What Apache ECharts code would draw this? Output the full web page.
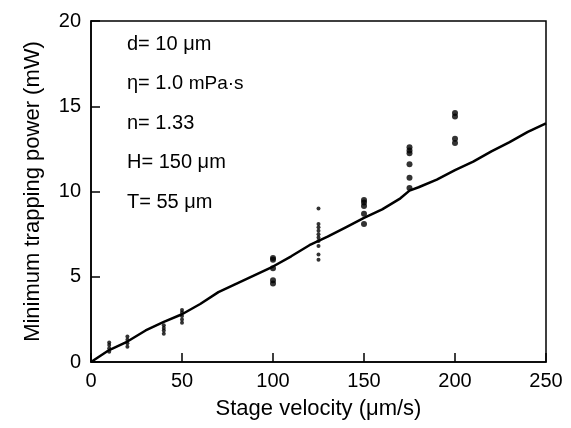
<!DOCTYPE html>
<html><head><meta charset="utf-8">
<script src="https://cdn.jsdelivr.net/npm/echarts@6/dist/echarts.min.js"></script>
<style>html,body{margin:0;padding:0;background:#fff}#c{width:571px;height:428px}</style>
</head><body><div id="c"></div>
<script>
// theory curve (stage velocity, power)
const curveX = [0,10,20,30,40,50,60,70,80,90,100,110,120,130,140,150,160,170,175,180,190,200,210,220,230,240,250];
const curveY = [0,0.7,1.2,1.85,2.35,2.8,3.4,4.1,4.6,5.1,5.6,6.2,6.85,7.35,7.9,8.45,8.95,9.6,10.05,10.25,10.7,11.25,11.75,12.35,12.9,13.5,14.0];
// measured points
const pointX = [10,10,10,10, 20,20,20,20, 40,40,40,40, 50,50,50,50,50,
  100,100,100,100,100, 125,125,125,125,125,125,125,125,125,125,
  150,150,150,150,150, 175,175,175,175,175,175, 200,200,200,200];
const pointY = [0.6,0.8,1.0,1.15, 0.9,1.1,1.3,1.5, 1.65,1.85,2.0,2.15, 2.3,2.5,2.7,2.9,3.05,
  6.1,6.0,5.5,4.8,4.6, 9.0,8.1,7.9,7.7,7.5,7.3,7.1,6.8,6.3,6.0,
  9.5,9.35,9.15,8.7,8.1, 12.6,12.4,12.25,11.6,10.8,10.2, 14.6,14.4,13.1,12.85];
const xTicks = [0,50,100,150,200,250];
const yTicks = [0,5,10,15,20];
const notes = ['d= 10 \u03bcm','{a|\u03b7= 1.0 }{b|mPa\u00b7s}','n= 1.33','H= 150 \u03bcm','T= 55 \u03bcm'];

const F = 'Liberation Sans, Arial, Helvetica, sans-serif';
const chart = echarts.init(document.getElementById('c'));
const axisCommon = {
  axisLine:{show:true,lineStyle:{color:'#000',width:1.5}},
  axisTick:{show:true,inside:true,length:9,lineStyle:{color:'#000',width:1.5}},
  splitLine:{show:false}
};
chart.setOption({
  animation:false,
  backgroundColor:'#fff',
  grid:{left:91,right:25,top:21,bottom:66,show:true,borderColor:'#000',borderWidth:1.5},
  xAxis:Object.assign({type:'value',min:xTicks[0],max:xTicks[xTicks.length-1],interval:50,
    name:'Stage velocity (\u03bcm/s)',nameLocation:'middle',nameGap:36,
    nameTextStyle:{color:'#000',fontFamily:F,fontSize:22}},axisCommon,
    {axisLabel:{color:'#000',fontFamily:F,fontSize:20,margin:9}}),
  yAxis:Object.assign({type:'value',min:yTicks[0],max:yTicks[yTicks.length-1],interval:5,
    name:'Minimum trapping power (mW)',nameLocation:'middle',nameGap:47,
    nameTextStyle:{color:'#000',fontFamily:F,fontSize:22}},axisCommon,
    {axisLabel:{color:'#000',fontFamily:F,fontSize:20,margin:10}}),
  series:[
    {type:'line',data:curveX.map((x,i)=>[x,curveY[i]]),showSymbol:false,smooth:false,
     lineStyle:{color:'#000',width:2.5},z:3},
    {type:'scatter',data:pointX.map((x,i)=>[x,pointY[i]]),symbol:'circle',
     symbolSize:function(v){return (v[0]<=50||v[0]===125)?4:6;},
     itemStyle:{color:'#000'},z:4}
  ],
  graphic: notes.map((t,i)=>({type:'text',left:127,top:34+i*39.5,
    style:{text:t,fill:'#000',font:'20px '+F,
      rich:{a:{fontSize:20,fontFamily:F,fill:'#000'},b:{fontSize:19,fontFamily:F,fill:'#000'}}}}))
});
</script></body></html>
